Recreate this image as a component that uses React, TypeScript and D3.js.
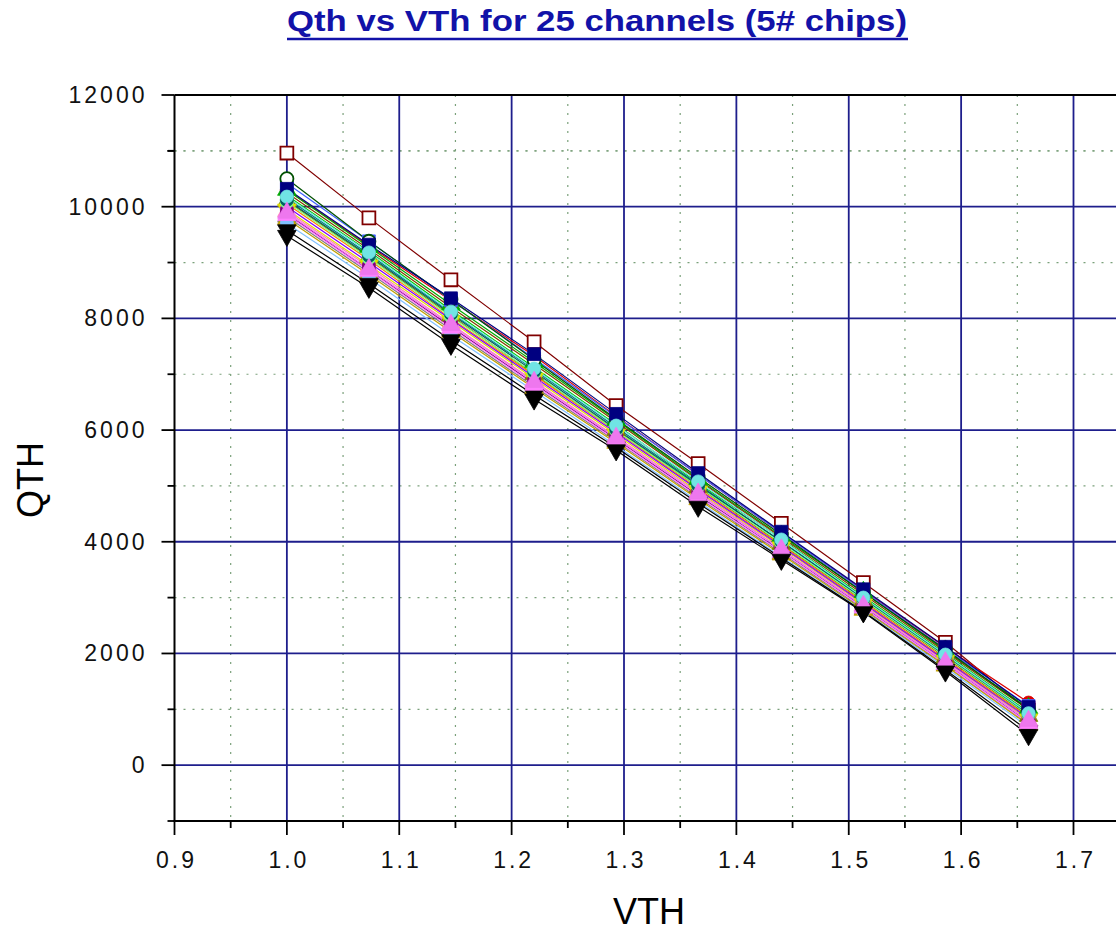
import React from "react";
import * as d3 from "d3";

// ---------------- data ----------------
const vth = [1.0, 1.073, 1.146, 1.22, 1.293, 1.366, 1.44, 1.513, 1.586, 1.66];
const xTicks = [0.9, 1.0, 1.1, 1.2, 1.3, 1.4, 1.5, 1.6, 1.7];
const yTicks = [0, 2000, 4000, 6000, 8000, 10000, 12000];

const ch25 = [10960, 9800, 8690, 7580, 6440, 5400, 4330, 3270, 2200, 980];
const ch01 = [10300, 9300, 8320, 7330, 6250, 5200, 4160, 3130, 2110, 1120];
const ch02 = [10300, 9280, 8250, 7220, 6180, 5120, 4100, 3100, 2050, 1020];
const ch03 = [10200, 9200, 8150, 7120, 6100, 5050, 4050, 3020, 2000, 950];
const ch04 = [10150, 9150, 8100, 7080, 6050, 5030, 4000, 2980, 1960, 900];
const ch05 = [10100, 9100, 8050, 7000, 6000, 4980, 3960, 2950, 1930, 880];
const ch06 = [10050, 9050, 8000, 6980, 5980, 4950, 3940, 2920, 1900, 860];
const ch07 = [9950, 8950, 7950, 6920, 5920, 4900, 3900, 2880, 1870, 820];
const ch08 = [10000, 9000, 7980, 6950, 5950, 4930, 3920, 2900, 1880, 840];
const ch09 = [9920, 8920, 7900, 6880, 5880, 4880, 3870, 2860, 1850, 800];
const ch10 = [9870, 8870, 7850, 6830, 5840, 4830, 3830, 2830, 1820, 760];
const ch11 = [10080, 9080, 8030, 7020, 5990, 4990, 3980, 2960, 1950, 900];
const ch12 = [9820, 8820, 7800, 6780, 5800, 4790, 3800, 2800, 1800, 740];
const ch13 = [10250, 9240, 8200, 7180, 6150, 5100, 4080, 3060, 2030, 990];
const ch14 = [10420, 9380, 8330, 7280, 6240, 5200, 4160, 3120, 2080, 1060];
const ch15 = [9780, 8780, 7760, 6750, 5770, 4760, 3770, 2780, 1780, 720];
const ch16 = [9700, 8720, 7700, 6700, 5720, 4720, 3730, 2760, 1750, 680];
const ch17 = [9580, 8620, 7610, 6630, 5690, 4690, 3710, 2750, 1710, 610];
const ch18 = [9850, 8850, 7830, 6810, 5820, 4810, 3820, 2820, 1810, 750];
const ch19 = [10120, 9120, 8080, 7050, 6020, 5010, 4010, 2990, 1970, 920];
const ch24 = [10500, 9380, 8340, 7260, 6200, 5150, 4130, 3090, 2070, 1000];
const ch23 = [10320, 9320, 8360, 7360, 6290, 5230, 4180, 3150, 2120, 1040];
const ch22 = [10180, 9180, 8120, 7100, 6080, 5080, 4040, 3000, 1980, 930];
const ch21 = [9890, 8880, 7880, 6860, 5860, 4860, 3860, 2850, 1840, 790];
const ch20 = [9480, 8550, 7530, 6550, 5640, 4630, 3680, 2740, 1680, 540];

const channels = [ch25, ch01, ch02, ch03, ch04, ch05, ch06, ch07, ch08, ch09, ch10, ch11, ch12,
  ch13, ch14, ch15, ch16, ch17, ch18, ch19, ch24, ch23, ch22, ch21, ch20];

// styles (separate from data)
const styles = [
  { color: "#800000", marker: "square", fill: false },
  { color: "#dd0000", marker: "circle", fill: true },
  { color: "#00aa00", marker: "up", fill: true },
  { color: "#00cc00", marker: "square", fill: true },
  { color: "#008080", marker: "diamond", fill: true },
  { color: "#808000", marker: "up", fill: true },
  { color: "#ff8000", marker: "circle", fill: true },
  { color: "#e0e000", marker: "down", fill: true },
  { color: "#8000ff", marker: "diamond", fill: true },
  { color: "#ff80c0", marker: "up", fill: true },
  { color: "#800080", marker: "square", fill: true },
  { color: "#80ff80", marker: "circle", fill: true },
  { color: "#808080", marker: "up", fill: true },
  { color: "#804000", marker: "diamond", fill: true },
  { color: "#4060ff", marker: "square", fill: true },
  { color: "#c0a000", marker: "up", fill: true },
  { color: "#80c0ff", marker: "circle", fill: true },
  { color: "#000000", marker: "down", fill: true },
  { color: "#ff80ff", marker: "up", fill: true },
  { color: "#006060", marker: "circle", fill: true },
  { color: "#005000", marker: "circle", fill: false },
  { color: "#000080", marker: "square", fill: true },
  { color: "#70e4e4", marker: "circle", fill: true },
  { color: "#ee77ee", marker: "up", fill: true },
  { color: "#000000", marker: "down", fill: true },
];

const W = 1116;
const H = 933;
const X0 = 174.5;
const X17 = 1073.5;
const YTOP = 95;
const YBOT = 821;

export default function App() {
  const x = d3.scaleLinear().domain([0.9, 1.7]).range([X0, X17]);
  const y = d3.scaleLinear().domain([-1000, 12000]).range([YBOT, YTOP]);

  const minorX = d3.range(0, 9).map((i) => 0.95 + i * 0.1);
  const minorY = d3.range(0, 6).map((i) => 1000 + i * 2000).concat([11000]);

  const line = d3
    .line<number>()
    .x((_, i) => x(vth[i]))
    .y((d) => y(d));

  const symFor = (m: string) => {
    if (m === "circle") return d3.symbol(d3.symbolCircle, 135)();
    if (m === "square") return d3.symbol(d3.symbolSquare, 165)();
    if (m === "diamond") return d3.symbol(d3.symbolDiamond, 120)();
    return d3.symbol(d3.symbolTriangle, 150)();
  };

  const font = "'Liberation Sans', Arial, sans-serif";

  return (
    <svg
      width={W}
      height={H}
      style={{ position: "absolute", left: 0, top: 0, background: "#fff" }}
    >
      <rect x={0} y={0} width={W} height={H} fill="#fff" />
      {/* title */}
      <text
        x={597}
        y={31}
        textAnchor="middle"
        fontFamily={font}
        fontWeight="bold"
        fontSize={30}
        fill="#1212a8"
        textLength={620}
        lengthAdjust="spacingAndGlyphs"
      >
        Qth vs VTh for 25 channels (5# chips)
      </text>
      <line x1={287} x2={908} y1={39} y2={39} stroke="#1212a8" strokeWidth={2.5} />

      {/* minor dotted grid */}
      {minorX.map((v) => (
        <line key={"mx" + v} x1={x(v)} x2={x(v)} y1={YTOP} y2={YBOT}
          stroke="#7aa07a" strokeWidth={1.2} strokeDasharray="2,7" />
      ))}
      {minorY.map((v) => (
        <line key={"my" + v} x1={X0} x2={W} y1={y(v)} y2={y(v)}
          stroke="#7aa07a" strokeWidth={1.2} strokeDasharray="2,7" />
      ))}

      {/* major grid */}
      {xTicks.slice(1).map((v) => (
        <line key={"gx" + v} x1={x(v)} x2={x(v)} y1={YTOP} y2={YBOT}
          stroke="#1e1e8c" strokeWidth={1.8} />
      ))}
      {yTicks.slice(0, -1).map((v) => (
        <line key={"gy" + v} x1={X0} x2={W} y1={y(v)} y2={y(v)}
          stroke="#1e1e8c" strokeWidth={1.8} />
      ))}

      {/* frame top */}
      <line x1={X0} x2={W} y1={YTOP} y2={YTOP} stroke="#000" strokeWidth={2} />

      {/* series lines */}
      {channels.map((c, i) => (
        <path key={"l" + i} d={line(c) || ""} fill="none"
          stroke={styles[i].color} strokeWidth={1.2} />
      ))}
      {/* markers */}
      {channels.map((c, i) =>
        c.map((v, j) => {
          const st = styles[i];
          const rot = st.marker === "down" ? 180 : 0;
          return (
            <path
              key={"m" + i + "_" + j}
              d={symFor(st.marker) || ""}
              transform={`translate(${x(vth[j])},${y(v)}) rotate(${rot})`}
              fill={st.fill ? st.color : "#fff"}
              stroke={st.color}
              strokeWidth={st.fill ? 0.8 : 1.8}
            />
          );
        })
      )}

      {/* axes */}
      <line x1={X0} x2={X0} y1={YTOP} y2={YBOT + 1} stroke="#000" strokeWidth={2} />
      <line x1={X0 - 1} x2={W} y1={YBOT} y2={YBOT} stroke="#000" strokeWidth={2} />
      {yTicks.map((v) => (
        <g key={"yt" + v}>
          <line x1={X0 - 13} x2={X0} y1={y(v)} y2={y(v)} stroke="#000" strokeWidth={1.8} />
          <text x={X0 - 27} y={y(v) + 8} textAnchor="end" fontFamily={font}
            fontSize={23} letterSpacing={3} fill="#111">{v}</text>
        </g>
      ))}
      {minorY.concat([-1000]).map((v) => (
        <line key={"ymt" + v} x1={X0 - 7} x2={X0} y1={y(v)} y2={y(v)} stroke="#000" strokeWidth={1.8} />
      ))}
      {xTicks.map((v) => (
        <g key={"xt" + v}>
          <line x1={x(v)} x2={x(v)} y1={YBOT} y2={YBOT + 14} stroke="#000" strokeWidth={1.8} />
          <text x={x(v) + 2} y={YBOT + 47} textAnchor="middle" fontFamily={font}
            fontSize={23} letterSpacing={3} fill="#111">{v.toFixed(1)}</text>
        </g>
      ))}
      {minorX.map((v) => (
        <line key={"xmt" + v} x1={x(v)} x2={x(v)} y1={YBOT} y2={YBOT + 7} stroke="#000" strokeWidth={1.8} />
      ))}

      {/* axis titles */}
      <text x={649} y={924} textAnchor="middle" fontFamily={font} fontSize={36} fill="#000">VTH</text>
      <text transform="translate(43,480) rotate(-90)" textAnchor="middle" fontFamily={font}
        fontSize={36} fill="#000">QTH</text>
    </svg>
  );
}
